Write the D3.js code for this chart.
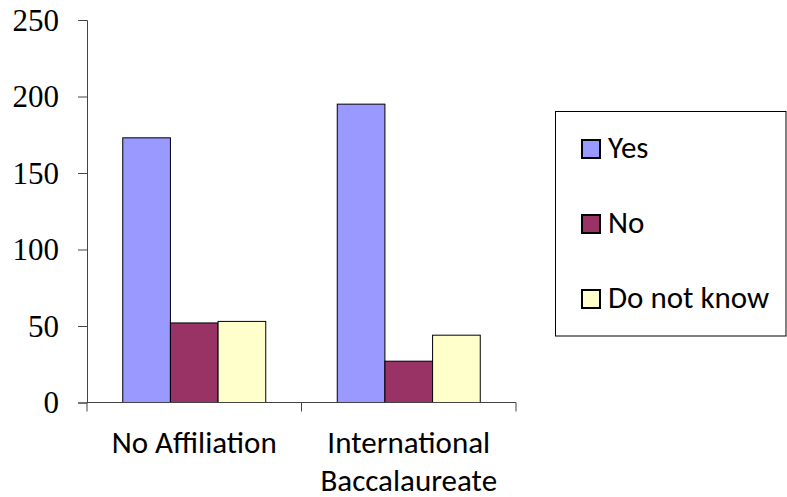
<!DOCTYPE html>
<html><head><meta charset="utf-8">
<script src="https://cdn.jsdelivr.net/npm/d3@7"></script>
<style>body{margin:0;background:#fff}svg{display:block}</style>
</head><body>
<svg id="c" width="787" height="497"></svg>
<script>
const categories = [["No Affiliation"], ["International", "Baccalaureate"]];
const seriesNames = ["Yes", "No", "Do not know"];
const yes = [173, 195];
const no = [52, 27];
const dnk = [53, 44];
const yTicks = [0, 50, 100, 150, 200, 250];
const colors = ["#9999FF", "#993366", "#FFFFCC"];

const sansFont = "Carlito, Lato, 'Open Sans', sans-serif";
const svg = d3.select("#c");
const x0 = 87, x1 = 516, yTop = 20, yBot = 402.5;
const catKeys = categories.map((c, i) => i);
const x = d3.scaleBand().domain(catKeys).range([x0, x1]).paddingInner(0).paddingOuter(0);
const xs = d3.scaleBand().domain(seriesNames).range([0, x.bandwidth()]).paddingInner(0).paddingOuter(0.75);
const y = d3.scaleLinear().domain([0, 250]).range([yBot, yTop]);
const series = [yes, no, dnk];

const g = svg.append("g");
catKeys.forEach(ci => {
  seriesNames.forEach((s, si) => {
    const v = series[si][ci];
    g.append("rect")
      .attr("x", x(ci) + xs(s))
      .attr("y", y(v))
      .attr("width", xs.bandwidth())
      .attr("height", y(0) - y(v))
      .attr("fill", colors[si])
      .attr("stroke", "#000")
      .attr("stroke-width", 1);
  });
});

// Y axis
const yAxis = d3.axisLeft(y).tickValues(yTicks).tickSize(9).tickPadding(19);
const ya = svg.append("g").attr("transform", `translate(${x0},0)`).call(yAxis);
ya.selectAll("path,line").attr("stroke", "#444");
ya.selectAll("text").attr("font-family", "'Liberation Serif', 'Times New Roman', serif").attr("font-size", 31).attr("fill", "#000").attr("dy", "0.33em");

// X axis
const xa = svg.append("g").attr("transform", `translate(0,${yBot})`);
xa.append("line").attr("x1", x0).attr("x2", x1).attr("y1", 0).attr("y2", 0).attr("stroke", "#444");
const bounds = [x0, ...catKeys.map(k => x(k) + x.bandwidth())];
bounds.forEach(b => xa.append("line").attr("x1", b).attr("x2", b).attr("y1", 0).attr("y2", 9).attr("stroke", "#444"));
catKeys.forEach(ci => {
  const t = xa.append("text").attr("x", x(ci) + x.bandwidth() / 2).attr("y", 50.5)
    .attr("text-anchor", "middle").attr("font-family", sansFont).attr("font-size", 31).attr("fill", "#000");
  categories[ci].forEach((line, li) => t.append("tspan").attr("x", x(ci) + x.bandwidth() / 2).attr("dy", li === 0 ? 0 : 37.5).text(line));
});

// Legend
const lg = svg.append("g");
lg.append("rect").attr("x", 555.5).attr("y", 111.5).attr("width", 230.5).attr("height", 224.5).attr("fill", "#fff").attr("stroke", "#000");
seriesNames.forEach((s, i) => {
  const base = 158 + i * 75;
  lg.append("rect").attr("x", 582).attr("y", base - 18).attr("width", 18).attr("height", 18).attr("fill", colors[i]).attr("stroke", "#000").attr("stroke-width", 2);
  lg.append("text").attr("x", 608).attr("y", base).attr("font-family", sansFont).attr("font-size", 31).attr("fill", "#000").text(s);
});
</script>
</body></html>
